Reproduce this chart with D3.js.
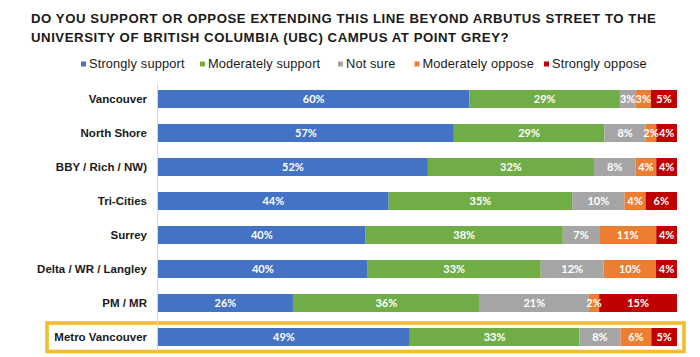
<!DOCTYPE html>
<html><head><meta charset="utf-8">
<script src="https://cdn.jsdelivr.net/npm/d3@7"></script>
<style>body{margin:0;background:#fff}svg{display:block}</style>
</head><body>
<svg id="c" width="700" height="357"></svg>
<script>
const titleLines = ["DO YOU SUPPORT OR OPPOSE EXTENDING THIS LINE BEYOND ARBUTUS STREET TO THE",
  "UNIVERSITY OF BRITISH COLUMBIA (UBC) CAMPUS AT POINT GREY?"];
const categories = ["Vancouver","North Shore","BBY / Rich / NW)","Tri-Cities","Surrey","Delta / WR / Langley","PM / MR","Metro Vancouver"];
const seriesNames = ["Strongly support","Moderately support","Not sure","Moderately oppose","Strongly oppose"];
const stronglySupport   = [60,57,52,44,40,40,26,49];
const moderatelySupport = [29,29,32,35,38,33,36,33];
const notSure           = [3,8,8,10,7,12,21,8];
const moderatelyOppose  = [3,2,4,4,11,10,2,6];
const stronglyOppose    = [5,4,4,6,4,4,15,5];
const colors = ["#4472C4","#70AD47","#A5A5A5","#ED7D31","#C00000"];
const highlighted = "Metro Vancouver";

const series = [stronglySupport, moderatelySupport, notSure, moderatelyOppose, stronglyOppose];
const svg = d3.select("#c");

// title
svg.append("g").selectAll("text").data(titleLines).join("text")
  .attr("x", 31).attr("y", (d,i)=>22.5+i*19.8)
  .attr("font-family","Liberation Sans, Arial, sans-serif")
  .attr("font-weight","bold").attr("font-size",13.2).attr("letter-spacing",0.55).attr("fill","#1a1a1a")
  .text(d=>d);

// legend
const legendX = [81,200,338,414.5,544];
const lg = svg.append("g").selectAll("g").data(seriesNames).join("g")
  .attr("transform",(d,i)=>`translate(${legendX[i]},0)`);
lg.append("rect").attr("x",0).attr("y",61.5).attr("width",5).attr("height",5).attr("fill",(d,i)=>colors[i]);
lg.append("text").attr("x",8).attr("y",68).attr("font-family","Liberation Sans, Arial, sans-serif")
  .attr("font-size",12.8).attr("letter-spacing",0.15).attr("fill","#1a1a1a").text(d=>d);

// scales
const y = d3.scaleBand().domain(categories).range([82,354]).paddingInner(16/34).paddingOuter(8/34);
const x = d3.scaleLinear().domain([0,1]).range([158,677]);

// rows data (normalized stacks)
const rows = categories.map((c,ci)=>{
  const vals = series.map(s=>s[ci]);
  const total = d3.sum(vals);
  let acc = 0;
  return vals.map((v,si)=>{const r={cat:c, v, si, x0:acc/total, x1:(acc+v)/total}; acc+=v; return r;});
});

// highlight box
svg.append("rect").attr("x",47).attr("y",y(highlighted)+y.bandwidth()/2-14).attr("width",637).attr("height",28.5)
  .attr("fill","none").attr("stroke","#F2BC2C").attr("stroke-width",3.6);

// axis line
svg.append("line").attr("x1",157.5).attr("x2",157.5).attr("y1",83).attr("y2",352).attr("stroke","#D9D9D9").attr("stroke-width",1);

// bars
const segs = rows.flat();
svg.append("g").selectAll("rect").data(segs).join("rect")
  .attr("x",d=>x(d.x0)).attr("width",d=>x(d.x1)-x(d.x0))
  .attr("y",d=>y(d.cat)).attr("height",y.bandwidth())
  .attr("fill",d=>colors[d.si]);

svg.append("g").selectAll("text").data(segs).join("text")
  .attr("x",d=>(x(d.x0)+x(d.x1))/2).attr("y",d=>y(d.cat)+y.bandwidth()/2+4)
  .attr("text-anchor","middle").attr("font-family","Lato, sans-serif").attr("font-weight","bold")
  .attr("font-size",11).attr("fill","#fff").text(d=>d.v+"%");

// category labels
svg.append("g").selectAll("text").data(categories).join("text")
  .attr("x",147).attr("y",d=>y(d)+y.bandwidth()/2+4)
  .attr("text-anchor","end").attr("font-family","Liberation Sans, Arial, sans-serif")
  .attr("font-weight","bold").attr("font-size",11.5).attr("fill","#1a1a1a").text(d=>d);
</script>
</body></html>
